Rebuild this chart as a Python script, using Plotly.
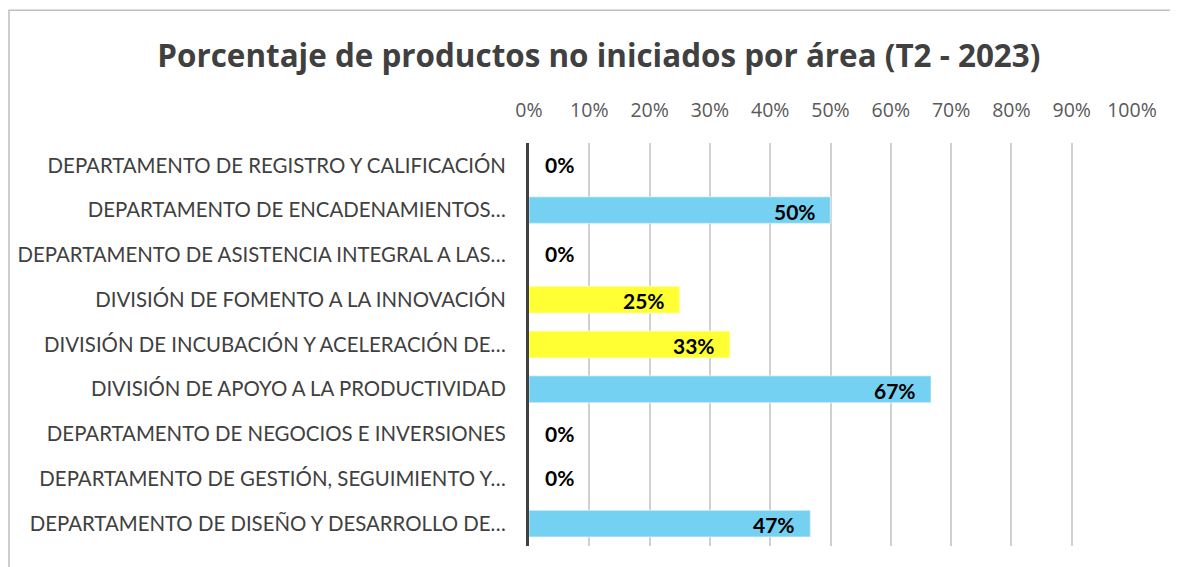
import plotly.graph_objects as go

categories = [
    "DEPARTAMENTO DE REGISTRO Y CALIFICACIÓN",
    "DEPARTAMENTO DE ENCADENAMIENTOS…",
    "DEPARTAMENTO DE ASISTENCIA INTEGRAL A LAS…",
    "DIVISIÓN DE FOMENTO A LA INNOVACIÓN",
    "DIVISIÓN DE INCUBACIÓN Y ACELERACIÓN DE…",
    "DIVISIÓN DE APOYO A LA PRODUCTIVIDAD",
    "DEPARTAMENTO DE NEGOCIOS E INVERSIONES",
    "DEPARTAMENTO DE GESTIÓN, SEGUIMIENTO Y…",
    "DEPARTAMENTO DE DISEÑO Y DESARROLLO DE…",
]
values = [0.0, 0.5, 0.0, 0.25, 0.3333, 0.6667, 0.0, 0.0, 0.4667]
bar_colors = ["#75D1F2", "#75D1F2", "#75D1F2", "#FFFF33", "#FFFF33",
              "#75D1F2", "#75D1F2", "#75D1F2", "#75D1F2"]
tick_vals = [i / 10 for i in range(11)]
tick_text = [f"{i*10}%" for i in range(11)]
title = "Porcentaje de productos no iniciados por área (T2 - 2023)"

fig = go.Figure()
fig.add_trace(go.Bar(
    y=categories, x=values, orientation="h",
    marker=dict(color=bar_colors, line=dict(color="rgba(255,255,255,0.4)", width=1.5)),
    width=0.6, hoverinfo="skip",
))

for c, v in zip(categories, values):
    fig.add_annotation(
        x=v, y=c, xref="x", yref="y",
        text=f"<b>{round(v*100)}%</b>", showarrow=False,
        xanchor="right" if v > 0 else "left",
        xshift=-13 if v > 0 else 14,
        yshift=-1 if v > 0 else 1,
        font=dict(family="Lato, Open Sans, sans-serif", size=21, color="#000000"),
    )

fig.add_shape(type="rect", xref="paper", yref="paper",
              x0=-0.8624, x1=1.2, y0=-0.3, y1=1.3295,
              line=dict(color="#BFBFBF", width=1.5), fillcolor="rgba(0,0,0,0)", layer="below")

fig.update_layout(
    width=1170, height=559,
    margin=dict(l=521, r=46, t=135, b=21, autoexpand=False),
    paper_bgcolor="white", plot_bgcolor="white",
    title=dict(text=f"<b>{title}</b>", x=0.505, xanchor="center", y=0.915, yanchor="middle",
               font=dict(family="Open Sans, sans-serif", size=31.4, color="#404040")),
    showlegend=False,
    xaxis=dict(range=[0, 1], side="top", tickvals=tick_vals, ticktext=tick_text,
               automargin=False,
               showgrid=True, gridcolor="#D0D0D0", gridwidth=1.5, zeroline=False,
               showline=False, ticks="", ticklabelstandoff=21,
               tickfont=dict(family="Open Sans, sans-serif", size=19.5, color="#595959")),
    yaxis=dict(categoryorder="array", categoryarray=categories, autorange="reversed",
               automargin=False,
               showline=True, linecolor="#404040", linewidth=3, ticks="",
               ticklabelstandoff=16,
               tickfont=dict(family="Lato, sans-serif", size=20.4, color="#404040")),
)

fig.write_html("out.html")
